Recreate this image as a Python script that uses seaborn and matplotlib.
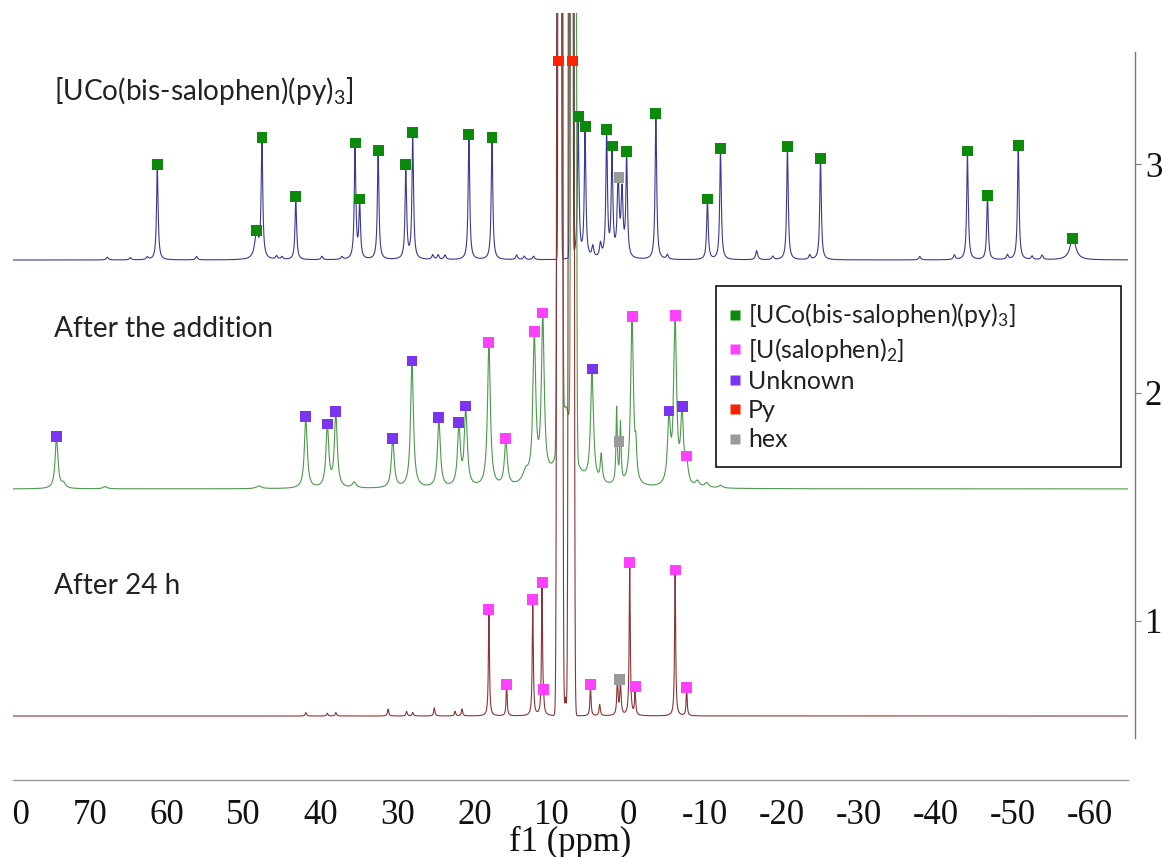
import numpy as np
import pandas as pd
import matplotlib
matplotlib.use("Agg")
import matplotlib.pyplot as plt
from matplotlib.lines import Line2D
from matplotlib.ticker import MultipleLocator
from matplotlib.transforms import Bbox, TransformedBbox
import seaborn as sns

# ---- stacked 1H NMR traces (ppm, apex height above the trace baseline, half width) ----
base_top, base_mid, base_bot = 2.58, 1.578, 0.584

# top trace: [UCo(bis-salophen)(py)3], every labelled peak is a green square
top_ppm = [61.2, 48.3, 47.6, 43.2, 35.5, 34.9, 32.5, 28.9, 28.0, 20.7, 17.7, 6.5, 5.6,
           2.8, 2.1, 0.2, -3.6, -10.3, -12.0, -20.7, -25.0, -44.1, -46.7, -50.7, -57.8]
top_h = [0.416, 0.127, 0.538, 0.276, 0.512, 0.267, 0.481, 0.416, 0.560, 0.551, 0.538, 0.630, 0.586,
         0.573, 0.499, 0.473, 0.643, 0.267, 0.486, 0.495, 0.446, 0.477, 0.284, 0.503, 0.096]
top_w = [0.12, 0.3, 0.12, 0.12, 0.12, 0.12, 0.12, 0.12, 0.12, 0.12, 0.12, 0.12, 0.12,
         0.12, 0.12, 0.12, 0.12, 0.12, 0.12, 0.12, 0.12, 0.12, 0.12, 0.12, 0.45]
# small unlabelled bumps + hexane cluster
top_small_ppm = [67.7, 64.7, 62.5, 56.1, 45.7, 45.0, 39.8, 37.2, 25.4, 24.7, 23.8, 14.5, 13.5, 12.3,
                 4.6, 3.6, 1.3, 0.8, -5.1, -16.7, -18.8, -23.6, -37.9, -42.4, -49.3, -52.5, -53.8]
top_small_h = [0.012, 0.010, 0.012, 0.015, 0.015, 0.012, 0.015, 0.012, 0.02, 0.02, 0.02, 0.02, 0.015, 0.015,
               0.05, 0.06, 0.34, 0.28, 0.02, 0.04, 0.015, 0.02, 0.015, 0.02, 0.02, 0.015, 0.02]

# middle trace: after the addition
mid_ppm = [74.3, 41.9, 39.1, 38.0, 30.6, 28.1, 24.6, 22.0, 21.1, 18.1, 15.9, 12.2, 11.1,
           4.7, -0.5, -5.3, -6.1, -7.0, -7.6]
mid_h = [0.228, 0.315, 0.284, 0.337, 0.219, 0.560, 0.311, 0.289, 0.363, 0.639, 0.219, 0.687, 0.770,
         0.525, 0.753, 0.341, 0.757, 0.359, 0.144]
mid_kind = ["Unknown", "Unknown", "Unknown", "Unknown", "Unknown", "Unknown", "Unknown", "Unknown",
            "Unknown", "U2", "U2", "U2", "U2", "Unknown", "U2", "Unknown", "U2", "Unknown", "U2"]
mid_small_ppm = [73.4, 68.0, 48.0, 35.6, 13.3, 8.1, 3.5, 1.5, 1.0, -1.0, -9.0, -10.2, -12.0]
mid_small_h = [0.02, 0.01, 0.012, 0.025, 0.05, 0.35, 0.12, 0.33, 0.26, 0.12, 0.025, 0.02, 0.012]
mid_small_w = [0.3, 0.3, 0.4, 0.3, 0.5, 1.0, 0.15, 0.1, 0.1, 0.12, 0.3, 0.3, 0.3]

# bottom trace: after 24 h, all labelled peaks are [U(salophen)2]
bot_ppm = [18.1, 15.8, 12.4, 11.2, 11.0, 4.9, -0.2, -0.9, -6.1, -7.6]
bot_h = [0.468, 0.140, 0.508, 0.586, 0.118, 0.140, 0.674, 0.131, 0.639, 0.123]
bot_small_ppm = [41.9, 39.1, 38.0, 31.2, 28.8, 28.0, 25.2, 22.5, 21.6, 8.15, 3.7, 1.4, 1.0]
bot_small_h = [0.015, 0.012, 0.015, 0.03, 0.02, 0.015, 0.035, 0.02, 0.03, 0.08, 0.05, 0.15, 0.14]

# pyridine solvent lines (off scale)
py_top, py_mid, py_bot = [8.9, 7.4], [8.9, 7.1], [8.9, 7.4]
py_mark_ppm = [9.0, 7.3]
py_mark_h = [0.871, 0.871]

# hexane markers, one per trace
hex_mark_ppm = [1.2, 1.2, 1.1]
hex_mark_h = [0.359, 0.206, 0.158]

kind_colors = {"UCo": "#0b8a0b", "U2": "#ff40ff", "Unknown": "#7a35f0", "Py": "#ff2200", "hex": "#9a9a9a"}
legend_names = ["[UCo(bis-salophen)(py)$_3$]", "[U(salophen)$_2$]", "Unknown", "Py", "hex"]
xtick_vals = [80, 70, 60, 50, 40, 30, 20, 10, 0, -10, -20, -30, -40, -50, -60]

sns.set_style("white")
plt.rcParams["font.family"] = ["Lato", "DejaVu Sans"]
plt.rcParams["mathtext.default"] = "regular"

grid = np.arange(-65.0, 80.0001, 0.01)


def lor(x, p, g):
    return g ** 2 / ((x - p) ** 2 + g ** 2)


def trace(ppm, h, w, small_ppm, small_h, small_w, py, py_sig, py_amp=60):
    # background: small bumps + solvent lines
    def bg(x):
        out = np.zeros_like(x, dtype=float)
        for p, a, g in zip(small_ppm, small_h, small_w):
            out += a * lor(x, p, g)
        for p in py:
            out += py_amp * np.exp(-0.5 * ((x - p) / py_sig) ** 2)
        return out

    # pick amplitudes so the trace apex sits at the read-off heights
    pos = np.array(ppm, dtype=float)
    M = np.array([[lor(xi, pj, wj) for pj, wj in zip(ppm, w)] for xi in pos])
    amps = np.clip(np.linalg.solve(M, np.array(h) - bg(pos)), 0, None)
    y = bg(grid)
    for p, a, g in zip(ppm, amps, w):
        y += a * lor(grid, p, g)
    return y


y_top = base_top + trace(top_ppm, top_h, top_w, top_small_ppm, top_small_h,
                         [0.15] * len(top_small_ppm), py_top, 0.09)
y_mid = base_mid + trace(mid_ppm, mid_h, [0.22] * len(mid_ppm), mid_small_ppm, mid_small_h,
                         mid_small_w, py_mid, 0.15)
y_bot = base_bot + trace(bot_ppm, bot_h, [0.08] * len(bot_ppm), bot_small_ppm, bot_small_h,
                         [0.1] * len(bot_small_ppm), py_bot, 0.16)

fig = plt.figure(figsize=(11.62, 8.57), dpi=100)
ax = fig.add_axes([12.7 / 1162, 1 - 780 / 857, (1128.3 - 12.7) / 1162, (780 - 13) / 857])

sns.lineplot(x=grid, y=y_top, ax=ax, color="#3a3a95", lw=0.8, estimator=None)
sns.lineplot(x=grid, y=y_mid, ax=ax, color="#4c9a4c", lw=0.8, estimator=None)
sns.lineplot(x=grid, y=y_bot, ax=ax, color="#8a3535", lw=0.8, estimator=None)

# peak markers
marks = pd.concat([
    pd.DataFrame({"ppm": top_ppm, "y": np.add(top_h, base_top), "kind": "UCo"}),
    pd.DataFrame({"ppm": mid_ppm, "y": np.add(mid_h, base_mid), "kind": mid_kind}),
    pd.DataFrame({"ppm": bot_ppm, "y": np.add(bot_h, base_bot), "kind": "U2"}),
    pd.DataFrame({"ppm": py_mark_ppm, "y": np.add(py_mark_h, base_top), "kind": "Py"}),
    pd.DataFrame({"ppm": hex_mark_ppm, "y": np.add(hex_mark_h, [base_top, base_mid, base_bot]), "kind": "hex"}),
])
sns.scatterplot(data=marks, x="ppm", y="y", hue="kind", palette=kind_colors, marker="s",
                s=62, linewidth=0, legend=False, ax=ax, zorder=5)

ax.set_xlim(80, -65)
ax.set_ylim(0.304, 3.661)

# trace labels
lab_kw = dict(fontsize=20.2, ha="left", va="baseline", color="#222222")
ax.text(74.6, 3.28, "[UCo(bis-salophen)(py)$_3$]", **lab_kw)
ax.text(74.6, 2.243, "After the addition", **lab_kw)
ax.text(74.6, 1.118, "After 24 h", **lab_kw)

# axes styling
ax.spines[["left", "top"]].set_visible(False)
ax.spines["bottom"].set_color("#999999")
ax.spines["bottom"].set_linewidth(1.0)
ax.spines["right"].set_position(("outward", 5))
ax.spines["right"].set_bounds(0.49, 3.49)
ax.spines["right"].set_color("#777777")
ax.spines["right"].set_linewidth(1.0)

ax.yaxis.tick_right()
ax.set_yticks([1, 2, 3], ["1", "2", "3"], fontfamily="Liberation Serif", fontsize=25)
ax.tick_params(axis="y", right=True, left=False, direction="out", length=4, width=0.8,
               color="#777777", pad=3, labelcolor="#111111")

ax.set_xticks(xtick_vals, [str(v) for v in xtick_vals], fontfamily="Liberation Serif", fontsize=25)
ax.xaxis.set_minor_locator(MultipleLocator(5))
ax.tick_params(axis="x", which="major", direction="out", length=5, width=0.8, color="#999999",
               pad=9, labelcolor="#111111")
ax.tick_params(axis="x", which="minor", direction="out", length=3, width=0.8, color="#999999")

ax.set_ylabel("")
ax.set_xlabel("f1 (ppm)", fontfamily="Liberation Serif", fontsize=25, color="#111111")
ax.xaxis.set_label_coords(0.4996, -0.060)

# the leftmost tick label is cut at the axis start, as in the source
first = ax.xaxis.get_major_ticks()[0].label1
first.set_clip_box(TransformedBbox(Bbox([[12.7 / 1162, 0], [1, 1]]), fig.transFigure))
first.set_clip_on(True)

handles = [Line2D([], [], ls="none", marker="s", ms=7, mec="none", color=kind_colors[k])
           for k in ["UCo", "U2", "Unknown", "Py", "hex"]]
leg = ax.legend(handles, legend_names, loc="upper left",
                bbox_to_anchor=(716 / 1162, 1 - 462 / 857, 405 / 1162, 176 / 857),
                bbox_transform=fig.transFigure, mode="expand", borderaxespad=0,
                frameon=True, fancybox=False, edgecolor="#111111", framealpha=1,
                fontsize=18, handlelength=0.25, handletextpad=0.4, labelspacing=0.25, borderpad=0.62)
leg.get_frame().set_linewidth(1.2)
for t in leg.get_texts():
    t.set_color("#222222")

fig.savefig("out.png", dpi=100)
